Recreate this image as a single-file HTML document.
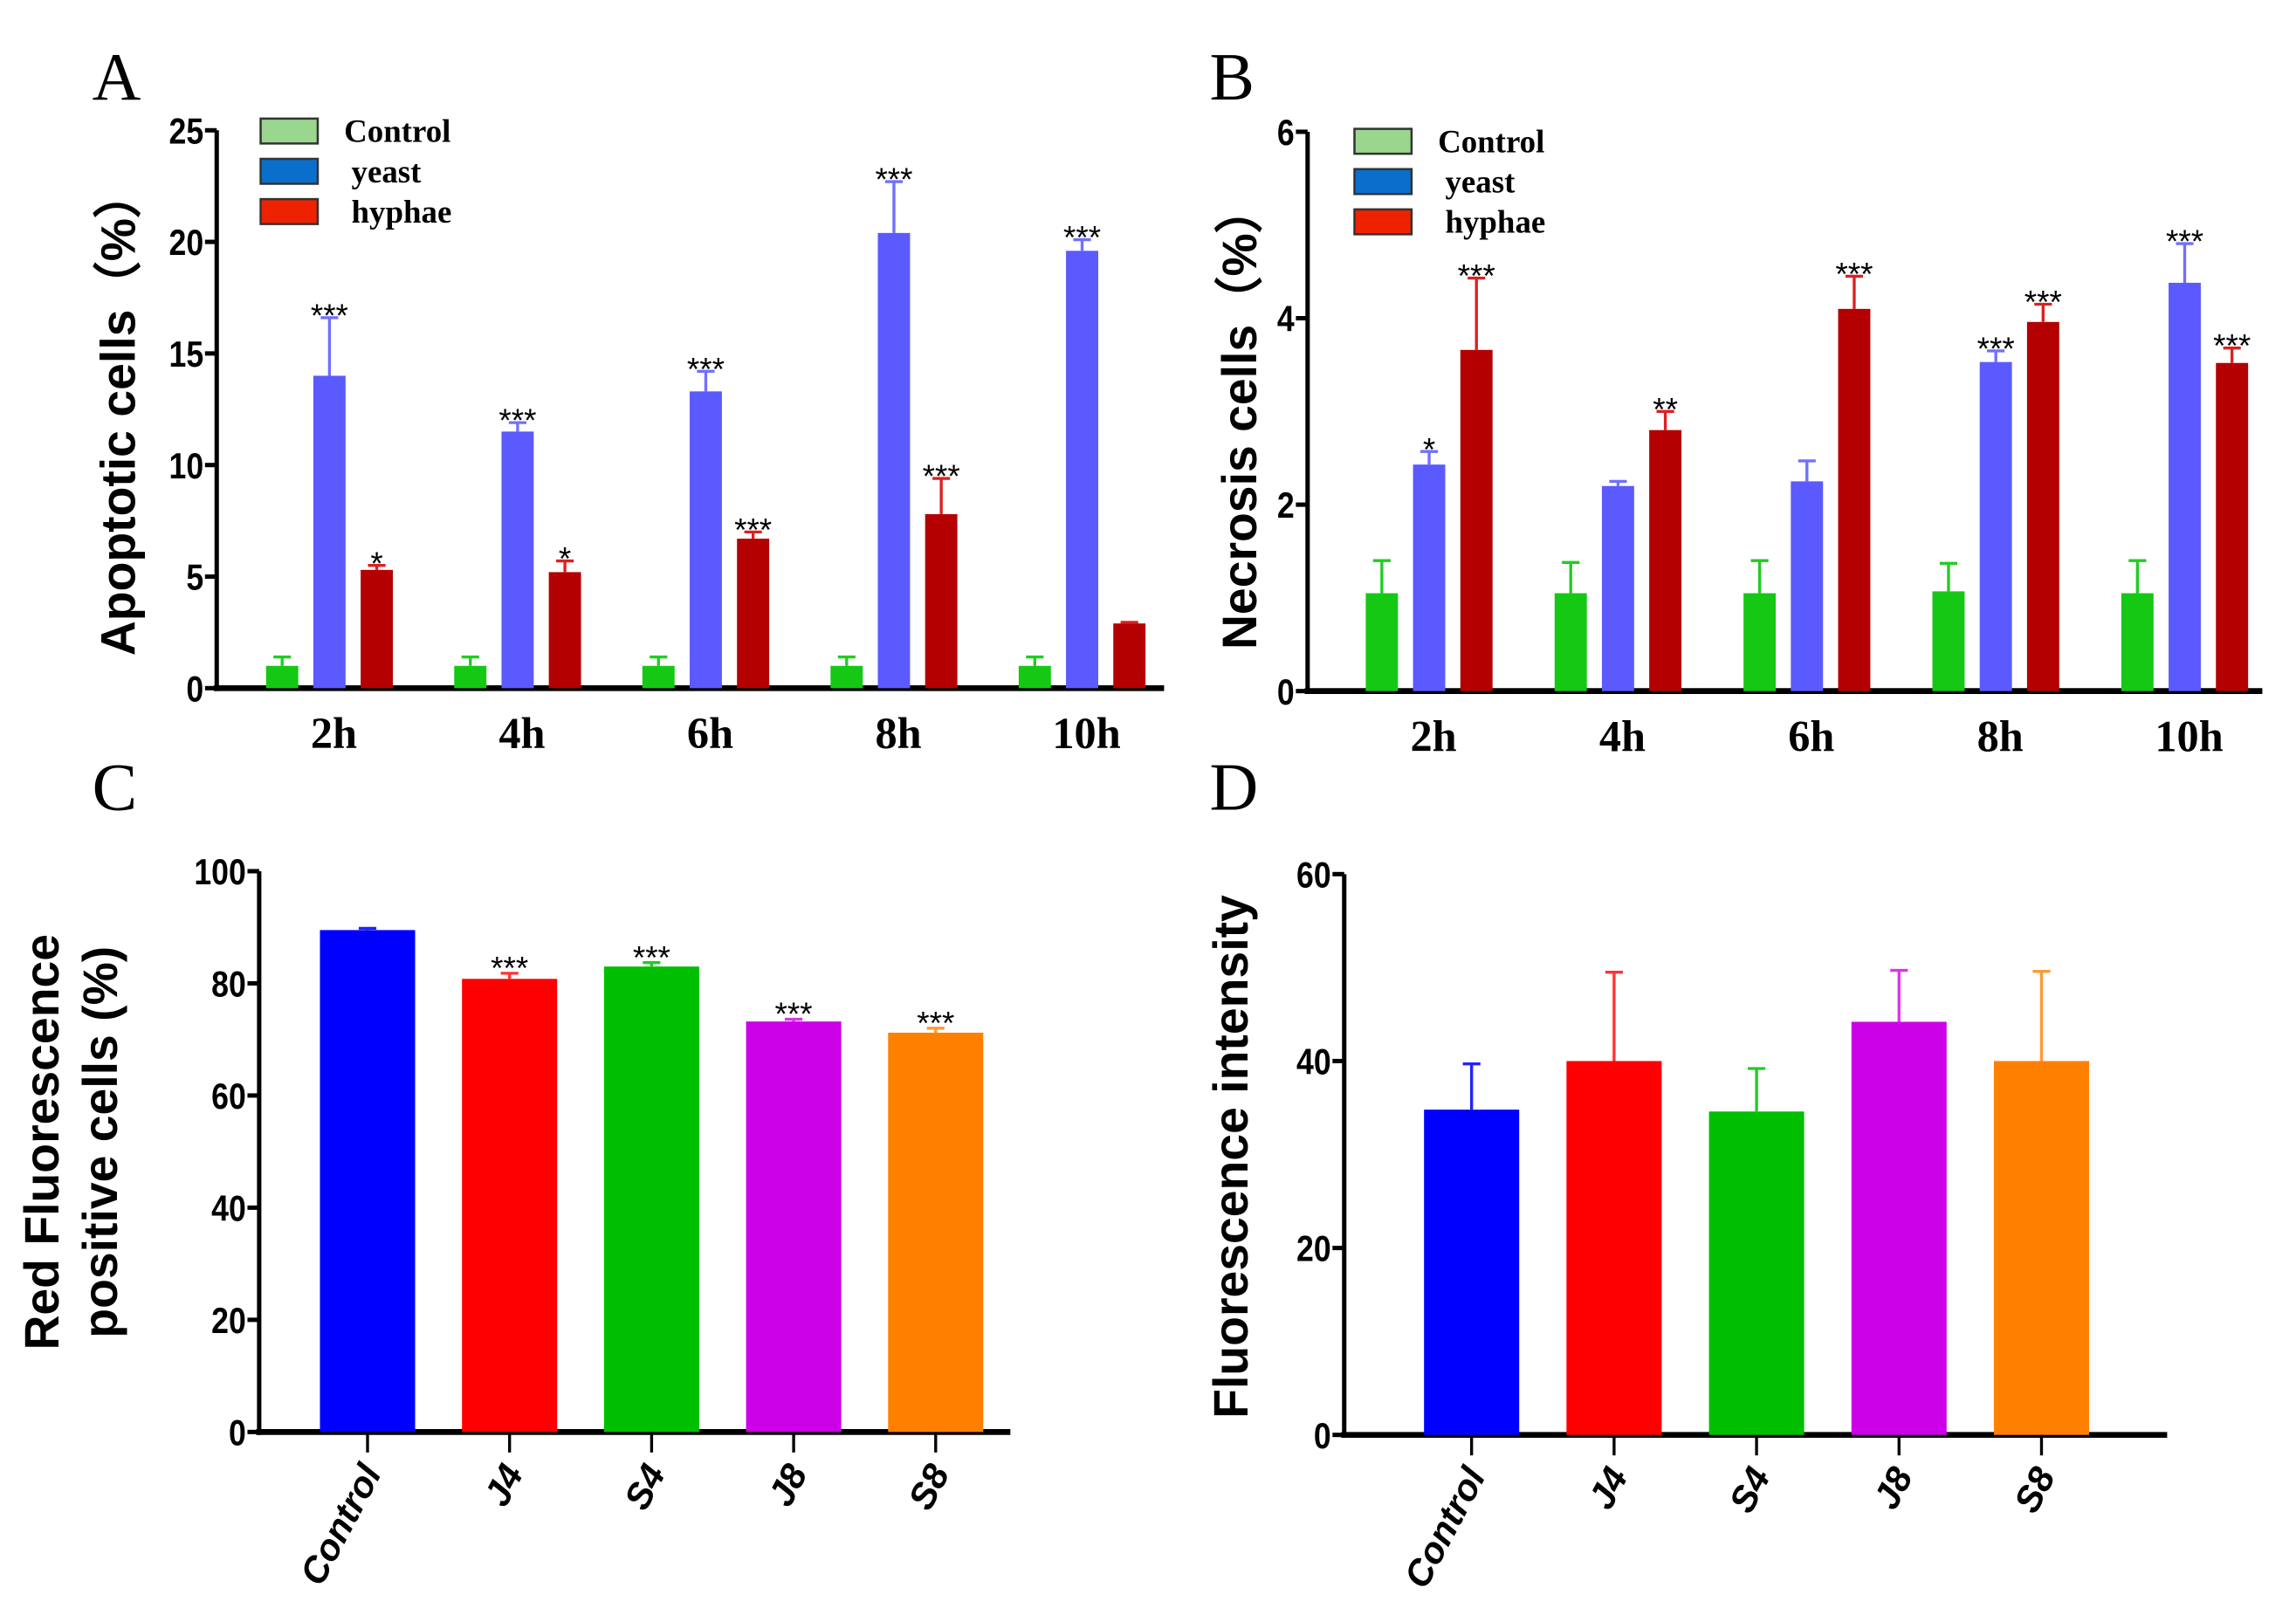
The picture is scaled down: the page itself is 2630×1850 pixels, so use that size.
<!DOCTYPE html>
<html><head><meta charset="utf-8"><style>
html,body{margin:0;padding:0;background:#fff;}
svg{display:block;}
.tk{font-family:"Liberation Sans",sans-serif;font-weight:bold;font-size:25px;}
.ser{font-family:"Liberation Serif",serif;font-weight:bold;}
.let{font-family:"Liberation Serif",serif;font-weight:normal;font-size:46px;}
.ttl{font-family:"Liberation Sans",sans-serif;font-weight:bold;font-size:33px;}
.st{font-family:"Liberation Sans",sans-serif;font-size:22px;}
</style></head><body>
<svg id="fig" width="2630" height="1850" viewBox="0 0 1568 1103" preserveAspectRatio="none" xmlns="http://www.w3.org/2000/svg"></svg>
<script>
// Panel A data
const timeCats = ["2h","4h","6h","8h","10h"];
const aControl = [1.0,1.0,1.0,1.0,1.0];
const aControlErr = [0.4,0.4,0.4,0.4,0.4];
const aYeast = [14.0,11.5,13.3,20.4,19.6];
const aYeastErr = [2.6,0.4,0.9,2.3,0.5];
const aHyphae = [5.3,5.2,6.7,7.8,2.9];
const aHyphaeErr = [0.2,0.5,0.3,1.6,0.05];
const aYeastStars = ["***","***","***","***","***"];
const aHyphaeStars = ["*","*","***","***",""];
const aTicks = [0,5,10,15,20,25];
// Panel B data
const bControl = [1.05,1.05,1.05,1.07,1.05];
const bControlErr = [0.35,0.33,0.35,0.3,0.35];
const bYeast = [2.43,2.2,2.25,3.53,4.38];
const bYeastErr = [0.14,0.05,0.22,0.12,0.42];
const bHyphae = [3.66,2.8,4.1,3.96,3.52];
const bHyphaeErr = [0.77,0.2,0.35,0.19,0.16];
const bYeastStars = ["*","","","***","***"];
const bHyphaeStars = ["***","**","***","***","***"];
const bTicks = [0,2,4,6];
// Panel C / D data
const grpCats = ["Control","J4","S4","J8","S8"];
const cVals = [89.5,80.8,83.0,73.2,71.2];
const cErr = [0.3,1.0,0.7,0.4,0.8];
const cStars = ["","***","***","***","***"];
const cTicks = [0,20,40,60,80,100];
const dVals = [34.8,40.0,34.6,44.2,40.0];
const dErr = [4.9,9.5,4.6,5.5,9.6];
const dTicks = [0,20,40,60];

const NS="http://www.w3.org/2000/svg";
const svg=document.getElementById('fig');
function mk(tag,attrs,parent,text){const e=document.createElementNS(NS,tag);for(const k in attrs)e.setAttribute(k,attrs[k]);if(text!==undefined)e.textContent=text;(parent||svg).appendChild(e);return e;}

function yScale(y0,yTop,max){return v=>y0-(v/max)*(y0-yTop);}

function axes(g,x0,y0,yTop,xEnd,ticks,max){
  const ys=yScale(y0,yTop,max);
  const ya=mk('line',{x1:x0,y1:y0+2,x2:x0,y2:yTop,stroke:'#000','stroke-width':3},g);
  
  
  const xa=mk('line',{x1:x0-2,y1:y0,x2:xEnd,y2:y0,stroke:'#000','stroke-width':4},g);
  
  
  ticks.forEach(t=>{
    const y=ys(t);
    mk('line',{x1:x0-8,y1:y,x2:x0,y2:y,stroke:'#000','stroke-width':3},g);
    const tl=mk('text',{x:x0-9,y:y+9,'text-anchor':'end',class:'tk',transform:`translate(${x0-9},0) scale(0.85,1) translate(${-(x0-9)},0)`},g,String(t));
    
    
  });
  return ys;
}

function bar(g,cx,w,v,err,ys,y0,fill,ecol,name){
  const top=ys(v);
  const r=mk('rect',{x:cx-w/2,y:top,width:w,height:y0-top,fill:fill},g);
  
  
  const et=ys(v+err);
  const e=mk('path',{d:`M${cx},${top} L${cx},${et} M${cx-6},${et} L${cx+6},${et}`,stroke:ecol,'stroke-width':2,fill:'none'},g);
  
  
  return et;
}

function star(g,cx,y,s){
  if(!s)return;
  const t=mk('text',{x:cx,y:y-2,'text-anchor':'middle',class:'st'},g,s);
  
  
}

function groupedPanel(opts){
  const g=mk('g',{});
  
  
  const ys=axes(g,opts.x0,opts.y0,opts.yTop,opts.xEnd,opts.ticks,opts.max);
  const series=[
    {v:opts.ctrl,e:opts.ctrlErr,fill:'#14c814',ec:'#22cc22',st:null,n:'bar-control'},
    {v:opts.yeast,e:opts.yeastErr,fill:'#5a5aff',ec:'#7070ff',st:opts.yStars,n:'bar-yeast'},
    {v:opts.hyph,e:opts.hyphErr,fill:'#b40000',ec:'#dd2020',st:opts.hStars,n:'bar-hyphae'}
  ];
  timeCats.forEach((c,i)=>{
    const gc=opts.first+i*opts.step;
    series.forEach((s,j)=>{
      const cx=gc+(j-1)*32.3;
      const et=bar(g,cx,22,s.v[i],s.e[i],ys,opts.y0,s.fill,s.ec,s.n);
      if(s.st)star(g,cx,et+8,s.st[i]);
    });
    const l=mk('text',{x:gc+opts.lblOff,y:opts.y0+41,'text-anchor':'middle',class:'ser','font-size':30},g,c);
    
    
  });
  const lg=mk('g',{},g);
  
  
  const lc=[['#9ad68e','Control'],['#0a6fcc','yeast'],['#ee2200','hyphae']];
  lc.forEach((L,i)=>{
    const y=opts.legY+i*27.5;
    const r=mk('rect',{x:opts.legX,y:y,width:39,height:17,fill:L[0],stroke:'#333','stroke-width':1.5},lg);
    
    
    const t=mk('text',{x:opts.legX+(i==0?57:62),y:y+16,class:'ser','font-size':22},lg,L[1]);
    
    
  });
  const yt=mk('text',{transform:`translate(${opts.ytX},${opts.ytY}) rotate(-90)`,'text-anchor':'middle',class:'ttl'},g,opts.ytitle);
  
  
  const pl=mk('text',{x:opts.letX,y:opts.letY,class:'let'},g,opts.letter);
  
  
}

groupedPanel({name:'panel-a',x0:148,y0:470,yTop:89,xEnd:795,max:25,ticks:aTicks,first:225,step:128.5,lblOff:3,
  ctrl:aControl,ctrlErr:aControlErr,yeast:aYeast,yeastErr:aYeastErr,hyph:aHyphae,hyphErr:aHyphaeErr,
  yStars:aYeastStars,hStars:aHyphaeStars,legX:178,legY:81,ytitle:'Apoptotic cells（%）',ytX:92,ytY:282,letter:'A',letX:63,letY:68});
groupedPanel({name:'panel-b',x0:893,y0:472,yTop:90,xEnd:1545,max:6,ticks:bTicks,first:976,step:129,lblOff:3,
  ctrl:bControl,ctrlErr:bControlErr,yeast:bYeast,yeastErr:bYeastErr,hyph:bHyphae,hyphErr:bHyphaeErr,
  yStars:bYeastStars,hStars:bHyphaeStars,legX:925,legY:88,ytitle:'Necrosis cells（%）',ytX:858,ytY:285,letter:'B',letX:826,letY:68});

function simplePanel(opts){
  const g=mk('g',{});
  
  
  const ys=axes(g,opts.x0,opts.y0,opts.yTop,opts.xEnd,opts.ticks,opts.max);
  const fills=['#0000ff','#ff0000','#00bf00','#cc00e6','#ff8000'];
  const ecs=['#2222ff','#ff3333','#22cc22','#dd33ee','#ff9a33'];
  grpCats.forEach((c,i)=>{
    const cx=opts.first+i*opts.step;
    const et=bar(g,cx,65,opts.vals[i],opts.err[i],ys,opts.y0,fills[i],ecs[i],'bar-'+c.toLowerCase());
    if(opts.stars)star(g,cx,et+6,opts.stars[i]);
    mk('line',{x1:cx,y1:opts.y0,x2:cx,y2:opts.y0+14,stroke:'#000','stroke-width':2},g);
    const l=mk('text',{transform:`translate(${cx+10},${opts.y0+28}) rotate(-62)`,'text-anchor':'end',class:'tk','font-style':'italic','font-size':27},g,c);
    
    
  });
  opts.ytitle.forEach((t,k)=>{
    const yt=mk('text',{transform:`translate(${opts.ytX+k*40},${opts.ytY}) rotate(-90)`,'text-anchor':'middle',class:'ttl'},g,t);
    
    
  });
  const pl=mk('text',{x:opts.letX,y:opts.letY,class:'let'},g,opts.letter);
  
  
}
simplePanel({name:'panel-c',x0:177,y0:978,yTop:595,xEnd:690,max:100,ticks:cTicks,first:251,step:97,vals:cVals,err:cErr,stars:cStars,
  ytitle:['Red Fluorescence','positive cells (%)'],ytX:40,ytY:780,letter:'C',letX:63,letY:553});
simplePanel({name:'panel-d',x0:918,y0:980,yTop:597,xEnd:1480,max:60,ticks:dTicks,first:1005,step:97.3,vals:dVals,err:dErr,stars:null,
  ytitle:['Fluorescence intensity'],ytX:852,ytY:790,letter:'D',letX:826,letY:553});
</script>
</body></html>
